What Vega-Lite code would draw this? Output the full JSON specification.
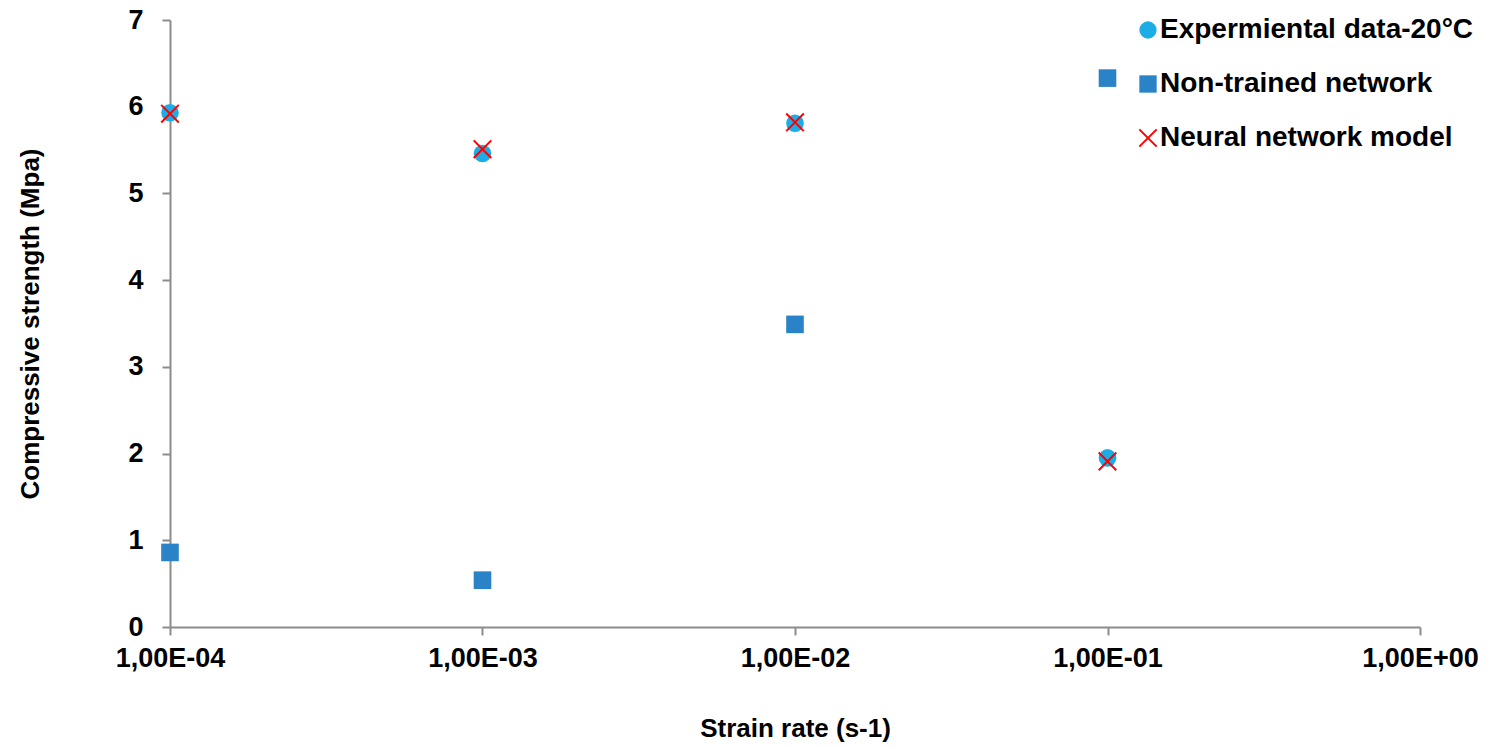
{
  "$schema": "https://vega.github.io/schema/vega-lite/v6.json",
  "autosize": {"type": "none"},
  "width": 1250,
  "height": 607,
  "padding": {"left": 170, "top": 20, "right": 75, "bottom": 121},
  "background": "white",
  "config": {
    "view": {"stroke": null},
    "font": "Liberation Sans",
    "axis": {
      "grid": false,
      "domainColor": "#8c8c8c",
      "domainWidth": 2,
      "tickColor": "#8c8c8c",
      "tickWidth": 2,
      "tickSize": 8,
      "labelFlush": false,
      "labelOverlap": false,
      "labelFont": "Liberation Sans",
      "labelFontWeight": "bold",
      "labelFontSize": 27,
      "labelColor": "#000000",
      "titleFont": "Liberation Sans",
      "titleFontWeight": "bold",
      "titleFontSize": 26,
      "titleColor": "#000000"
    },
    "legend": {
      "labelFont": "Liberation Sans",
      "labelFontWeight": "bold",
      "labelFontSize": 28,
      "labelColor": "#000000"
    }
  },
  "data": {
    "values": [
      {"rate": 0.0001, "strength": 5.93, "series": "Expermiental data-20°C"},
      {"rate": 0.001, "strength": 5.46, "series": "Expermiental data-20°C"},
      {"rate": 0.01, "strength": 5.81, "series": "Expermiental data-20°C"},
      {"rate": 0.1, "strength": 1.95, "series": "Expermiental data-20°C"},
      {"rate": 0.0001, "strength": 0.86, "series": "Non-trained network"},
      {"rate": 0.001, "strength": 0.54, "series": "Non-trained network"},
      {"rate": 0.01, "strength": 3.49, "series": "Non-trained network"},
      {"rate": 0.1, "strength": 6.33, "series": "Non-trained network"},
      {"rate": 0.0001, "strength": 5.92, "series": "Neural network model"},
      {"rate": 0.001, "strength": 5.51, "series": "Neural network model"},
      {"rate": 0.01, "strength": 5.82, "series": "Neural network model"},
      {"rate": 0.1, "strength": 1.91, "series": "Neural network model"}
    ]
  },
  "mark": {"type": "point", "size": 310, "strokeWidth": 2, "opacity": 1, "clip": false},
  "encoding": {
    "x": {
      "field": "rate",
      "type": "quantitative",
      "scale": {"type": "log", "domain": [0.0001, 1], "nice": false},
      "axis": {
        "values": [0.0001, 0.001, 0.01, 0.1, 1],
        "labelExpr": "'1,00E' + (datum.value < 0.5 ? '-0' + (-round(log(datum.value)/LN10)) : '+00')",
        "labelPadding": 10,
        "title": "Strain rate (s-1)",
        "titlePadding": 44
      }
    },
    "y": {
      "field": "strength",
      "type": "quantitative",
      "scale": {"domain": [0, 7], "nice": false, "zero": true},
      "axis": {
        "values": [0, 1, 2, 3, 4, 5, 6, 7],
        "labelPadding": 19,
        "title": "Compressive strength (Mpa)",
        "titlePadding": 84
      }
    },
    "shape": {
      "field": "series",
      "type": "nominal",
      "scale": {
        "domain": ["Expermiental data-20°C", "Non-trained network", "Neural network model"],
        "range": ["circle", "square", "M-1,-1L1,1M-1,1L1,-1"]
      },
      "legend": {
        "title": null,
        "orient": "none",
        "legendX": 964,
        "legendY": -4,
        "symbolSize": 300,
        "symbolStrokeWidth": 2,
        "labelOffset": -2,
        "rowPadding": 26,
        "labelLimit": 500
      }
    },
    "fill": {
      "field": "series",
      "type": "nominal",
      "scale": {
        "domain": ["Expermiental data-20°C", "Non-trained network", "Neural network model"],
        "range": ["#1dade6", "#2a83c7", "transparent"]
      },
      "legend": {
        "title": null,
        "orient": "none",
        "legendX": 964,
        "legendY": -4,
        "symbolSize": 300,
        "symbolStrokeWidth": 2,
        "labelOffset": -2,
        "rowPadding": 26,
        "labelLimit": 500
      }
    },
    "stroke": {
      "field": "series",
      "type": "nominal",
      "scale": {
        "domain": ["Expermiental data-20°C", "Non-trained network", "Neural network model"],
        "range": ["transparent", "transparent", "#ff0000"]
      },
      "legend": {
        "title": null,
        "orient": "none",
        "legendX": 964,
        "legendY": -4,
        "symbolSize": 300,
        "symbolStrokeWidth": 2,
        "labelOffset": -2,
        "rowPadding": 26,
        "labelLimit": 500
      }
    }
  }
}
